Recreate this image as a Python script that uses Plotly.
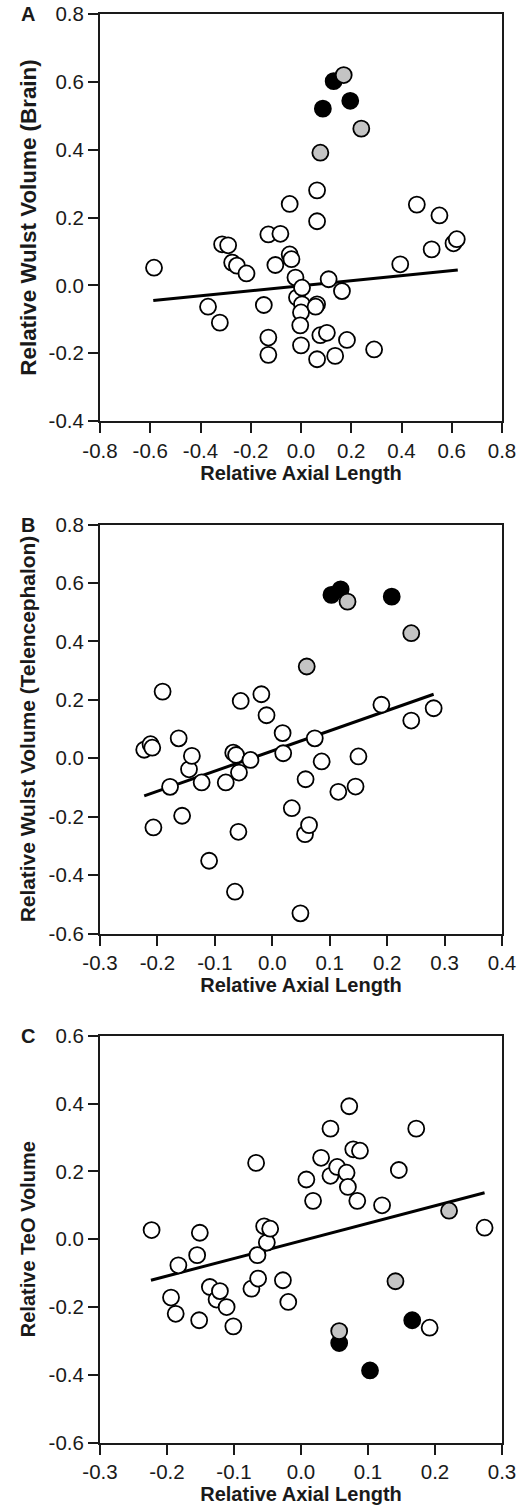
import plotly.graph_objects as go

# ---- Panel A: relative Wulst volume (brain) vs relative axial length ----
a_open_x = [-0.585, -0.370, -0.323, -0.314, -0.290, -0.274, -0.255, -0.217, -0.148, -0.130,
            -0.130, -0.130, -0.102, -0.082, -0.045, -0.045, -0.038, -0.022, -0.016, 0.004,
            0.004, 0.000, -0.003, 0.000, 0.064, 0.064, 0.064, 0.058, 0.064, 0.077,
            0.103, 0.110, 0.136, 0.163, 0.183, 0.291, 0.395, 0.461, 0.520, 0.551,
            0.607, 0.620]
a_open_y = [0.052, -0.063, -0.110, 0.121, 0.118, 0.067, 0.058, 0.035, -0.058, 0.150,
            -0.154, -0.205, 0.060, 0.152, 0.240, 0.091, 0.077, 0.023, -0.036, -0.007,
            -0.056, -0.080, -0.118, -0.177, 0.280, 0.189, -0.056, -0.063, -0.218, -0.147,
            -0.140, 0.018, -0.208, -0.017, -0.161, -0.189, 0.062, 0.238, 0.106, 0.206,
            0.124, 0.136]
a_grey_x = [0.170, 0.240, 0.077]
a_grey_y = [0.620, 0.462, 0.391]
a_black_x = [0.130, 0.087, 0.196]
a_black_y = [0.602, 0.521, 0.544]
a_fit_x = [-0.588, 0.624]
a_fit_y = [-0.045, 0.045]

# ---- Panel B: relative Wulst volume (telencephalon) ----
b_open_x = [-0.223, -0.212, -0.209, -0.207, -0.191, -0.178, -0.163, -0.157, -0.145, -0.140,
            -0.123, -0.110, -0.081, -0.068, -0.065, -0.063, -0.059, -0.058, -0.055, -0.038,
            -0.019, -0.010, 0.018, 0.019, 0.034, 0.049, 0.057, 0.058, 0.064, 0.074,
            0.086, 0.115, 0.145, 0.150, 0.190, 0.242, 0.281]
b_open_y = [0.029, 0.048, 0.036, -0.237, 0.228, -0.098, 0.068, -0.197, -0.038, 0.008,
            -0.083, -0.351, -0.083, 0.019, -0.457, 0.011, -0.252, -0.049, 0.196, -0.006,
            0.219, 0.147, 0.086, 0.017, -0.171, -0.531, -0.260, -0.072, -0.229, 0.068,
            -0.011, -0.115, -0.097, 0.006, 0.183, 0.129, 0.171]
b_grey_x = [0.131, 0.242, 0.060]
b_grey_y = [0.536, 0.428, 0.314]
b_black_x = [0.103, 0.119, 0.208]
b_black_y = [0.559, 0.578, 0.553]
b_fit_x = [-0.223, 0.281]
b_fit_y = [-0.129, 0.219]

# ---- Panel C: relative TeO volume ----
c_open_x = [-0.223, -0.194, -0.187, -0.183, -0.155, -0.152, -0.151, -0.136, -0.126, -0.121,
            -0.111, -0.101, -0.074, -0.067, -0.065, -0.064, -0.055, -0.051, -0.046, -0.027,
            -0.019, 0.008, 0.018, 0.030, 0.044, 0.044, 0.054, 0.068, 0.070, 0.072,
            0.078, 0.084, 0.088, 0.121, 0.146, 0.172, 0.192, 0.274]
c_open_y = [0.027, -0.172, -0.220, -0.077, -0.047, -0.239, 0.019, -0.141, -0.178, -0.153,
            -0.200, -0.257, -0.146, 0.225, -0.047, -0.116, 0.038, -0.010, 0.031, -0.121,
            -0.185, 0.176, 0.113, 0.240, 0.326, 0.187, 0.213, 0.196, 0.154, 0.392,
            0.265, 0.113, 0.261, 0.100, 0.204, 0.326, -0.261, 0.034]
c_grey_x = [0.221, 0.141, 0.057]
c_grey_y = [0.084, -0.124, -0.271]
c_black_x = [0.057, 0.103, 0.166]
c_black_y = [-0.306, -0.387, -0.239]
c_fit_x = [-0.224, 0.274]
c_fit_y = [-0.121, 0.137]

# ---- text and tick labels ----
y_titles = ["Relative Wulst Volume (Brain)",
            "Relative Wulst Volume (Telencephalon)",
            "Relative TeO Volume"]
x_title = "Relative Axial Length"
panel_letters = ["A", "B", "C"]
x_tick_values = [
    [-0.8, -0.6, -0.4, -0.2, 0.0, 0.2, 0.4, 0.6, 0.8],
    [-0.3, -0.2, -0.1, 0.0, 0.1, 0.2, 0.3, 0.4],
    [-0.3, -0.2, -0.1, 0.0, 0.1, 0.2, 0.3],
]
y_tick_values = [
    [-0.4, -0.2, 0.0, 0.2, 0.4, 0.6, 0.8],
    [-0.6, -0.4, -0.2, 0.0, 0.2, 0.4, 0.6, 0.8],
    [-0.6, -0.4, -0.2, 0.0, 0.2, 0.4, 0.6],
]

W, H = 531, 1505
M_L, M_R, M_T, M_B = 100, 29, 14, 62
PLOT_H = H - M_T - M_B
# vertical pixel extents (top, bottom) of each panel's plotting box
panel_px = [(14, 421), (524.5, 933.5), (1035.7, 1442.7)]
# y-title size and standoff per panel
y_title_size = [22.4, 20.9, 20.0]
y_title_standoff = [6, 7, 8]


def frac(p):
    return max(0.0, min(1.0, (H - M_B - p) / PLOT_H))


def hyphen_labels(vals):
    return ["%.1f" % v for v in vals]


INK = "#1a1a1a"
FONT = "Liberation Sans, Arial, Helvetica, sans-serif"
MARK = 16

panels = [
    (a_open_x, a_open_y, a_grey_x, a_grey_y, a_black_x, a_black_y, a_fit_x, a_fit_y),
    (b_open_x, b_open_y, b_grey_x, b_grey_y, b_black_x, b_black_y, b_fit_x, b_fit_y),
    (c_open_x, c_open_y, c_grey_x, c_grey_y, c_black_x, c_black_y, c_fit_x, c_fit_y),
]

fig = go.Figure()
layout = {}
annotations = []

for i, (ox, oy, gx, gy, bx, by, fx, fy) in enumerate(panels):
    n = "" if i == 0 else str(i + 1)
    xa, ya = "x" + n, "y" + n

    fig.add_trace(go.Scatter(x=fx, y=fy, mode="lines", xaxis=xa, yaxis=ya,
                             line=dict(color="black", width=3), showlegend=False,
                             hoverinfo="skip"))
    fig.add_trace(go.Scatter(x=bx, y=by, mode="markers", xaxis=xa, yaxis=ya,
                             marker=dict(size=MARK, color="black",
                                         line=dict(color="black", width=1.8)),
                             showlegend=False))
    fig.add_trace(go.Scatter(x=ox, y=oy, mode="markers", xaxis=xa, yaxis=ya,
                             marker=dict(size=MARK, color="white",
                                         line=dict(color="black", width=1.8)),
                             showlegend=False))
    fig.add_trace(go.Scatter(x=gx, y=gy, mode="markers", xaxis=xa, yaxis=ya,
                             marker=dict(size=MARK, color="#c4c4c4",
                                         line=dict(color="black", width=1.8)),
                             showlegend=False))

    top, bot = panel_px[i]
    xv, yv = x_tick_values[i], y_tick_values[i]
    common = dict(showline=True, mirror=True, linecolor=INK, linewidth=2,
                  ticks="outside", ticklen=10, tickwidth=2, tickcolor=INK,
                  showgrid=False, zeroline=False, automargin=False,
                  tickmode="array",
                  tickfont=dict(family=FONT, size=20.5, color=INK))
    layout["xaxis" + n] = dict(common, range=[xv[0], xv[-1]],
                               tickvals=xv, ticktext=hyphen_labels(xv),
                               domain=[0, 1], anchor=ya,
                               title=dict(text="<b>" + x_title + "</b>", standoff=2,
                                          font=dict(family=FONT, size=20, color=INK)))
    layout["yaxis" + n] = dict(common, range=[yv[0], yv[-1]],
                               tickvals=yv, ticktext=hyphen_labels(yv),
                               domain=[frac(bot), frac(top)], anchor=xa,
                               title=dict(text="<b>" + y_titles[i] + "</b>",
                                          standoff=y_title_standoff[i],
                                          font=dict(family=FONT, size=y_title_size[i],
                                                    color=INK)))
    annotations.append(dict(text="<b>" + panel_letters[i] + "</b>", xref="paper",
                            yref="paper", x=(28 - M_L) / (W - M_L - M_R),
                            y=frac(top), showarrow=False,
                            xanchor="center", yanchor="middle",
                            font=dict(family=FONT, size=20, color=INK)))

fig.update_layout(**layout)
fig.update_layout(width=W, height=H,
                  margin=dict(l=M_L, r=M_R, t=M_T, b=M_B, autoexpand=False),
                  paper_bgcolor="white", plot_bgcolor="white",
                  annotations=annotations, font=dict(family=FONT, color=INK))

fig.write_html("out.html")
